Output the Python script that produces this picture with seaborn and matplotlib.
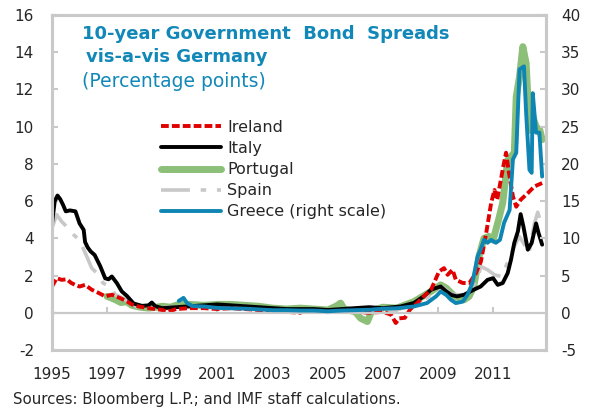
import matplotlib
matplotlib.use("Agg")
import matplotlib.pyplot as plt
import seaborn as sns

# 10-year government bond spreads vs Germany, percentage points (Greece on right scale)
ireland_x = [1995.0, 1995.17, 1995.35, 1995.53, 1995.7, 1995.84, 1996.0, 1996.2, 1996.44, 1996.7,
             1996.93, 1997.17, 1997.47, 1997.72, 1997.9, 1998.14, 1998.5, 1999.0, 1999.2, 1999.5,
             2000.0, 2000.5, 2001.0, 2001.5, 2002.0, 2002.5, 2003.0, 2003.5, 2004.0, 2004.2,
             2004.5, 2005.0, 2005.5, 2006.0, 2006.5, 2007.0, 2007.3, 2007.47, 2007.6, 2007.8,
             2008.0, 2008.25, 2008.5, 2008.75, 2009.04, 2009.22, 2009.35, 2009.53, 2009.65, 2009.9,
             2010.14, 2010.38, 2010.56, 2010.75, 2010.87, 2010.93, 2011.05, 2011.15, 2011.35, 2011.47,
             2011.58, 2011.72, 2011.84, 2012.0, 2012.26, 2012.5, 2012.78]
ireland_y = [1.41, 1.86, 1.77, 1.8, 1.6, 1.5, 1.41, 1.5, 1.24, 1.06,
             0.88, 0.97, 0.79, 0.61, 0.45, 0.34, 0.25, 0.15, 0.05, 0.2,
             0.25, 0.25, 0.2, 0.25, 0.2, 0.15, 0.1, 0.05, 0.0, 0.1,
             0.05, 0.05, 0.1, 0.05, 0.0, 0.05, -0.1, -0.55, -0.3, -0.27,
             0.2, 0.52, 0.9, 1.24, 2.22, 2.4, 2.04, 2.31, 1.77, 1.6,
             1.6, 2.13, 2.76, 4.28, 5.36, 5.9, 6.6, 6.07, 7.7, 8.6,
             7.5, 6.25, 5.7, 6.07, 6.43, 6.79, 6.97]

italy_x = [1995.0, 1995.1, 1995.2, 1995.3, 1995.4, 1995.5, 1995.65, 1995.85, 1996.0, 1996.15,
           1996.2, 1996.3, 1996.4, 1996.55, 1996.75, 1996.93, 1997.05, 1997.17, 1997.35, 1997.53,
           1997.72, 1997.96, 1998.26, 1998.5, 1998.62, 1998.75, 1999.0, 1999.5, 2000.0, 2000.5,
           2001.0, 2001.5, 2002.0, 2002.5, 2003.0, 2003.5, 2004.0, 2004.5, 2005.0, 2005.5,
           2006.0, 2006.5, 2007.0, 2007.65, 2008.13, 2008.5, 2008.75, 2008.93, 2009.1, 2009.3,
           2009.5, 2009.7, 2009.95, 2010.3, 2010.55, 2010.8, 2011.0, 2011.17, 2011.35, 2011.53,
           2011.65, 2011.77, 2011.9, 2012.0, 2012.1, 2012.26, 2012.4, 2012.56, 2012.65, 2012.78]
italy_y = [4.8, 6.0, 6.3, 6.1, 5.8, 5.45, 5.5, 5.45, 4.8, 4.45,
           3.8, 3.5, 3.3, 3.1, 2.5, 1.85, 1.8, 1.95, 1.6, 1.15,
           0.9, 0.5, 0.37, 0.4, 0.55, 0.35, 0.25, 0.3, 0.35, 0.4,
           0.45, 0.4, 0.35, 0.3, 0.25, 0.2, 0.2, 0.2, 0.15, 0.2,
           0.25, 0.3, 0.25, 0.34, 0.53, 0.9, 1.24, 1.33, 1.41, 1.15,
           0.95, 0.88, 0.97, 1.24, 1.41, 1.77, 1.86, 1.5, 1.6, 2.13,
           2.85, 3.76, 4.37, 5.3, 4.64, 3.39, 3.75, 4.8, 4.28, 3.66]

portugal_x = [1997.0, 1997.15, 1997.3, 1997.5, 1997.7, 1997.9, 1998.2, 1998.5, 1998.8, 1999.0,
              1999.3, 1999.6, 2000.0, 2000.5, 2001.0, 2001.5, 2002.0, 2002.5, 2003.0, 2003.5,
              2004.0, 2004.5, 2005.0, 2005.3, 2005.47, 2005.6, 2006.0, 2006.2, 2006.44, 2006.6,
              2007.0, 2007.5, 2008.13, 2008.75, 2009.1, 2009.3, 2009.6, 2009.95, 2010.13, 2010.3,
              2010.5, 2010.67, 2010.85, 2011.0, 2011.2, 2011.35, 2011.53, 2011.77, 2011.84, 2011.96,
              2012.08, 2012.2, 2012.32, 2012.44, 2012.56, 2012.7, 2012.78]
portugal_y = [0.88, 0.8, 0.7, 0.55, 0.6, 0.4, 0.3, 0.25, 0.3, 0.35,
              0.3, 0.45, 0.45, 0.4, 0.45, 0.45, 0.4, 0.35, 0.25, 0.2,
              0.25, 0.2, 0.15, 0.35, 0.52, 0.2, 0.05, -0.3, -0.47, 0.1,
              0.3, 0.25, 0.6, 1.15, 1.5, 1.33, 0.88, 0.7, 0.88, 1.41,
              3.1, 4.0, 4.1, 3.9, 5.0, 5.9, 8.2, 8.6, 11.6, 12.7,
              14.3, 13.4, 9.8, 10.55, 10.0, 9.8, 9.3]

spain_x = [1995.0, 1995.17, 1995.35, 1995.53, 1995.78, 1996.0, 1996.27, 1996.44, 1996.63, 1996.85,
           1997.1, 1997.3, 1997.55, 1997.78, 1998.1, 1998.5, 1999.0, 1999.5, 2000.0, 2000.5,
           2001.0, 2001.5, 2002.0, 2002.5, 2003.0, 2003.5, 2004.0, 2004.5, 2005.0, 2005.5,
           2006.0, 2006.5, 2007.0, 2007.5, 2008.0, 2008.5, 2008.9, 2009.15, 2009.5, 2009.9,
           2010.2, 2010.44, 2010.55, 2010.8, 2011.05, 2011.3, 2011.6, 2011.77, 2011.95, 2012.1,
           2012.3, 2012.5, 2012.62, 2012.78]
spain_y = [4.55, 5.27, 4.9, 4.64, 4.2, 3.9, 3.0, 2.4, 2.13, 1.6,
           1.41, 0.97, 0.8, 0.6, 0.3, 0.25, 0.3, 0.3, 0.3, 0.3,
           0.35, 0.3, 0.3, 0.25, 0.2, 0.15, 0.15, 0.1, 0.05, 0.05,
           0.1, 0.1, 0.1, 0.15, 0.4, 0.7, 1.1, 1.4, 1.0, 0.95,
           1.33, 1.77, 2.49, 2.31, 2.04, 1.95, 2.94, 3.56, 4.1, 3.75,
           3.2, 4.8, 5.4, 4.64]

greece_x = [1999.6, 1999.77, 1999.9, 2000.1, 2000.5, 2001.0, 2001.5, 2002.0, 2002.5, 2003.0,
            2003.5, 2004.0, 2004.5, 2005.0, 2005.5, 2006.0, 2006.5, 2007.0, 2007.5, 2008.13,
            2008.6, 2008.93, 2009.1, 2009.3, 2009.47, 2009.65, 2009.9, 2010.07, 2010.25, 2010.44,
            2010.55, 2010.67, 2010.8, 2010.93, 2011.1, 2011.25, 2011.4, 2011.6, 2011.72, 2011.84,
            2011.96, 2012.12, 2012.2, 2012.32, 2012.4, 2012.44, 2012.56, 2012.68, 2012.78]
greece_y = [1.6, 2.0, 1.3, 0.9, 0.85, 0.65, 0.6, 0.55, 0.45, 0.35,
            0.35, 0.3, 0.3, 0.2, 0.3, 0.35, 0.4, 0.55, 0.6, 0.85,
            1.3, 2.2, 2.86, 2.4, 1.75, 1.3, 1.5, 2.4, 4.0, 7.57,
            8.5, 9.8, 9.4, 9.8, 9.4, 9.8, 12.1, 13.8, 20.6, 21.5,
            32.7, 33.1, 26.8, 19.2, 18.8, 29.5, 24.2, 24.2, 18.3]

year_ticks = [1995, 1997, 1999, 2001, 2003, 2005, 2007, 2009, 2011]
left_ticks = [-2, 0, 2, 4, 6, 8, 10, 12, 14, 16]
right_ticks = [-5, 0, 5, 10, 15, 20, 25, 30, 35, 40]

sns.set_style("white")
plt.rcParams['font.family'] = ['DejaVu Sans']
plt.rcParams['axes.unicode_minus'] = False

title_col = '#1288b8'
frame_col = '#c9c9c9'

fig = plt.figure(figsize=(5.89, 4.09), dpi=100)
ax = fig.add_axes([52/589, 1 - 350/409, 494/589, 335/409])
ax2 = ax.twinx()

common = dict(estimator=None, errorbar=None, sort=False)
sns.lineplot(x=portugal_x, y=portugal_y, ax=ax, color='#8cbf78', lw=5, label='Portugal',
             solid_capstyle='round', **common)
sns.lineplot(x=spain_x, y=spain_y, ax=ax, color='#c8c8c8', lw=2.6, label='Spain',
             linestyle=(0, (8, 3, 1.5, 3)), **common)
sns.lineplot(x=italy_x, y=italy_y, ax=ax, color='black', lw=2.8, label='Italy', **common)
sns.lineplot(x=ireland_x, y=ireland_y, ax=ax, color='#e00000', lw=2.8, label='Ireland',
             linestyle=(0, (2, 0.8)), **common)
sns.lineplot(x=greece_x, y=greece_y, ax=ax2, color='#0f85b4', lw=2.8, label='Greece (right scale)',
             **common)

ax.set_xlim(1995, 2012.92)
ax.set_ylim(-2, 16)
ax2.set_ylim(-5, 40)
ax.set_xticks(year_ticks)
ax.set_yticks(left_ticks)
ax2.set_yticks(right_ticks)
ax.set_xlabel('')
ax.set_ylabel('')

for a in (ax, ax2):
    for s in a.spines.values():
        s.set_color(frame_col)
        s.set_linewidth(2.2)
ax.spines['bottom'].set_position(('data', 0))
ax.spines['bottom'].set_linewidth(1.6)

ax.tick_params(axis='x', direction='in', length=4, width=1.5, color=frame_col,
               labelsize=11, pad=39, bottom=True)
ax.tick_params(axis='y', direction='in', length=4, width=1.5, color=frame_col,
               labelsize=11, pad=13, left=True)
ax2.tick_params(axis='y', direction='in', length=4, width=1.5, color=frame_col,
                labelsize=11, pad=11, right=True)

# combined legend in the original order
handles = {}
for a in (ax, ax2):
    h, l = a.get_legend_handles_labels()
    handles.update(dict(zip(l, h)))
    if a.get_legend() is not None:
        a.get_legend().remove()
order = ['Ireland', 'Italy', 'Portugal', 'Spain', 'Greece (right scale)']
fig.legend([handles[k] for k in order], order, loc='upper left',
           bbox_to_anchor=(153/589, 1 - 112/409), frameon=False, fontsize=11.5,
           borderpad=0, handlelength=3.75, handletextpad=0.4, labelspacing=0.38)

fig.text(82/589, 1 - 39/409, '10-year Government  Bond  Spreads', fontsize=13,
         fontweight='bold', color=title_col, va='baseline')
fig.text(86/589, 1 - 62/409, 'vis-a-vis Germany', fontsize=13,
         fontweight='bold', color=title_col, va='baseline')
fig.text(82/589, 1 - 87/409, '(Percentage points)', fontsize=13.5,
         color=title_col, va='baseline')
fig.text(13/589, 1 - 404/409, 'Sources: Bloomberg L.P.; and IMF staff calculations.',
         fontsize=10.8, va='baseline')

fig.savefig('out.png', dpi=100)
